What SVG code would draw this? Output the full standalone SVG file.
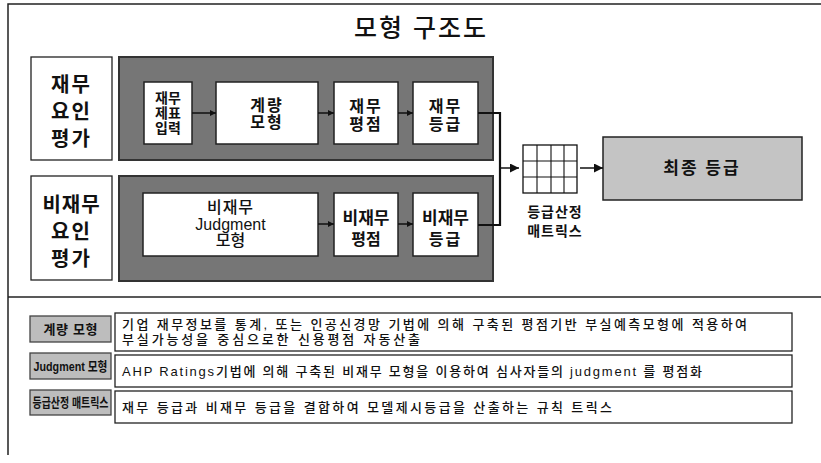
<svg xmlns="http://www.w3.org/2000/svg" width="821" height="463" viewBox="0 0 821 463">
<defs>
<style>
text{font-family:"Liberation Sans","Noto Sans CJK KR",sans-serif;fill:#111;text-anchor:middle}
.frame{stroke:#222;stroke-width:1.5;fill:none}
.lbl{fill:#fff;stroke:#222;stroke-width:1.3}
.panel{fill:#767676;stroke:#333;stroke-width:2}
.box{fill:#fff;stroke:#222;stroke-width:1.5}
.big{font-size:20px;font-weight:bold}
.mid{font-size:16px;font-weight:bold}
.sm{font-size:14px;font-weight:bold}
.conn{stroke:#111;stroke-width:1.5;fill:none}
.bus{stroke:#111;stroke-width:2.2;fill:none}
.light{fill:#bdbdbd;stroke:#444;stroke-width:1.3}
.desc{fill:#fff;stroke:#222;stroke-width:1.3}
.dt{font-size:13px;text-anchor:start;font-weight:500}
.lt{font-size:13px;font-weight:bold}
</style>
<marker id="ah" viewBox="0 0 10 10" refX="10" refY="5" markerWidth="6" markerHeight="6" orient="auto" markerUnits="userSpaceOnUse">
<path d="M0,0 L10,5 L0,10 z" fill="#111"/>
</marker>
<marker id="ahL" viewBox="0 0 10 10" refX="10" refY="5" markerWidth="9" markerHeight="9" orient="auto" markerUnits="userSpaceOnUse">
<path d="M0,0 L10,5 L0,10 z" fill="#111"/>
</marker>
</defs>
<rect width="821" height="463" fill="#fff"/>
<g id="frame">
<path class="frame" d="M8,455 V4 H821"/>
<path class="frame" d="M8,297 H821"/>
</g>
<g id="title"><text x="421" y="37" style="font-size:25px;letter-spacing:2px;font-weight:500">모형 구조도</text></g>

<g id="fin-label">
<rect class="lbl" x="31" y="57" width="81" height="103"/>
<text class="big" x="71.5" y="92" style="letter-spacing:2px">재무</text>
<text class="big" x="71.5" y="119" style="letter-spacing:2px">요인</text>
<text class="big" x="71.5" y="146" style="letter-spacing:2px">평가</text>
</g>
<g id="fin-panel"><rect class="panel" x="119" y="57" width="374" height="103"/></g>
<g id="fin-input">
<rect class="box" x="144" y="82" width="48" height="62"/>
<text class="sm" x="168" y="103">재무</text>
<text class="sm" x="168" y="118">제표</text>
<text class="sm" x="168" y="133">입력</text>
</g>
<g id="quant-model">
<rect class="box" x="216" y="82" width="102" height="62"/>
<text class="mid" x="267" y="111" style="letter-spacing:2px">계량</text>
<text class="mid" x="267" y="128" style="letter-spacing:2px">모형</text>
</g>
<g id="fin-score">
<rect class="box" x="334" y="82" width="64" height="62"/>
<text class="mid" x="366" y="112" style="letter-spacing:2px">재무</text>
<text class="mid" x="366" y="130" style="letter-spacing:2px">평점</text>
</g>
<g id="fin-grade">
<rect class="box" x="413" y="82" width="65" height="62"/>
<text class="mid" x="445.5" y="112" style="letter-spacing:2px">재무</text>
<text class="mid" x="445.5" y="130" style="letter-spacing:2px">등급</text>
</g>

<g id="nonfin-label">
<rect class="lbl" x="31" y="176" width="81" height="104"/>
<text class="big" x="71.5" y="212" style="letter-spacing:1px">비재무</text>
<text class="big" x="71.5" y="239" style="letter-spacing:2px">요인</text>
<text class="big" x="71.5" y="266" style="letter-spacing:2px">평가</text>
</g>
<g id="nonfin-panel"><rect class="panel" x="119" y="176" width="374" height="105"/></g>
<g id="judgment-model">
<rect class="box" x="143" y="193" width="175" height="63"/>
<text class="mid" x="230.5" y="213" style="font-weight:500;letter-spacing:1px">비재무</text>
<text class="mid" x="230.5" y="230" style="font-weight:500">Judgment</text>
<text class="mid" x="230.5" y="246" style="font-weight:500">모형</text>
</g>
<g id="nonfin-score">
<rect class="box" x="334" y="193" width="64" height="63"/>
<text class="mid" x="366" y="224" style="font-size:17px">비재무</text>
<text class="mid" x="366" y="245">평점</text>
</g>
<g id="nonfin-grade">
<rect class="box" x="413" y="193" width="65" height="63"/>
<text class="mid" x="445.5" y="224" style="font-size:17px">비재무</text>
<text class="mid" x="445.5" y="245" style="letter-spacing:2px">등급</text>
</g>

<g id="matrix">
<rect x="523" y="145" width="54" height="48" fill="#fff" stroke="#111" stroke-width="1.3"/>
<path d="M537,145 V193 M551,145 V193 M564,145 V193 M523,161 H577 M523,177 H577" stroke="#111" stroke-width="1.1" fill="none"/>
<text x="555" y="217" style="font-size:14px;font-weight:bold;letter-spacing:1px">등급산정</text>
<text x="555" y="236" style="font-size:14px;font-weight:bold;letter-spacing:1px">매트릭스</text>
</g>
<g id="final-grade">
<rect x="603" y="137" width="199" height="63" fill="#c4c4c4" stroke="#222" stroke-width="1.5"/>
<text x="702" y="174" style="font-size:17px;font-weight:bold;letter-spacing:2px">최종 등급</text>
</g>

<g id="connectors">
<line class="conn" x1="192" y1="113" x2="216" y2="113" marker-end="url(#ah)"/>
<line class="conn" x1="318" y1="113" x2="334" y2="113" marker-end="url(#ah)"/>
<line class="conn" x1="398" y1="113" x2="413" y2="113" marker-end="url(#ah)"/>
<line class="conn" x1="318" y1="224" x2="334" y2="224" marker-end="url(#ah)"/>
<line class="conn" x1="398" y1="224" x2="413" y2="224" marker-end="url(#ah)"/>
<path class="bus" d="M478,113 H500 V225 H478"/>
<line class="conn" x1="500" y1="168" x2="519" y2="168" marker-end="url(#ahL)"/>
<line class="conn" x1="580" y1="168" x2="603" y2="168" marker-end="url(#ahL)"/>
</g>

<g id="legend-quant">
<rect class="light" x="30" y="316" width="81" height="26"/>
<text class="lt" x="70.5" y="334" textLength="54" lengthAdjust="spacing">계량 모형</text>
<rect class="desc" x="115" y="313" width="677" height="38"/>
<text class="dt" x="122" y="328.5" textLength="625" lengthAdjust="spacing">기업 재무정보를 통계, 또는 인공신경망 기법에 의해 구축된 평점기반 부실예측모형에 적용하여</text>
<text class="dt" x="122" y="344" textLength="298" lengthAdjust="spacing">부실가능성을 중심으로한 신용평점 자동산출</text>
</g>
<g id="legend-judgment">
<rect class="light" x="30" y="353" width="81" height="26"/>
<text class="lt" x="70.5" y="371" textLength="74" lengthAdjust="spacingAndGlyphs">Judgment 모형</text>
<rect class="desc" x="115" y="355" width="677" height="32"/>
<text class="dt" x="122" y="375.5" textLength="580" lengthAdjust="spacing">AHP Ratings기법에 의해 구축된 비재무 모형을 이용하여 심사자들의 judgment 를 평점화</text>
</g>
<g id="legend-matrix">
<rect class="light" x="30" y="390" width="81" height="25"/>
<text class="lt" x="70.5" y="407" textLength="76" lengthAdjust="spacingAndGlyphs">등급산정 매트릭스</text>
<rect class="desc" x="115" y="391" width="677" height="32"/>
<text class="dt" x="122" y="412" textLength="490" lengthAdjust="spacing">재무 등급과 비재무 등급을 결합하여 모델제시등급을 산출하는 규칙 트릭스</text>
</g>
</svg>
